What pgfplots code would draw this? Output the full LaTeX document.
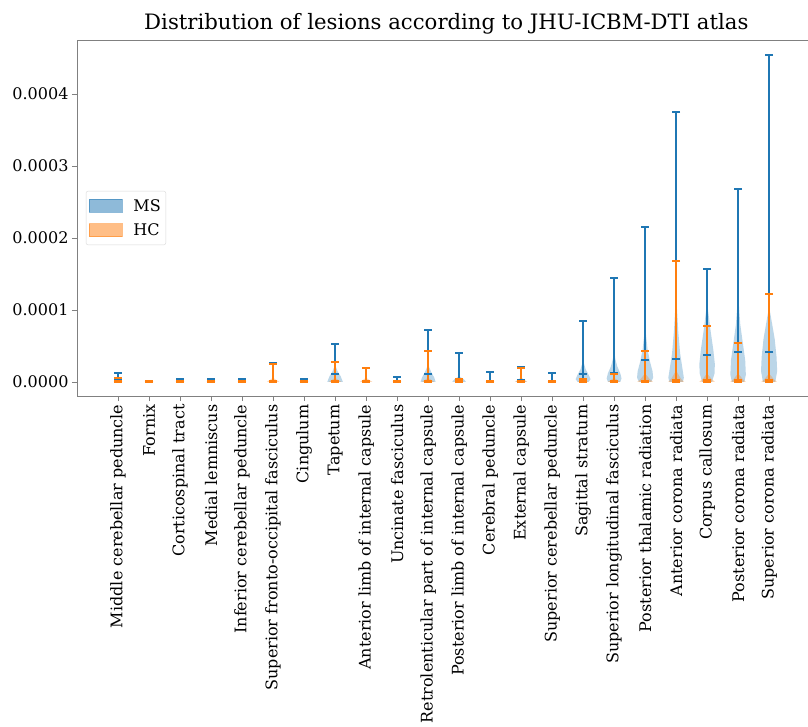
\documentclass[border=0pt]{standalone}
\usepackage{fontspec}
\setmainfont{DejaVu Serif}
\usepackage{pgfplots}
\usepackage{pgfplotstable}
\pgfplotsset{compat=1.18}
\definecolor{msblue}{HTML}{1F77B4}
\definecolor{hcorange}{HTML}{FF7F0E}
\definecolor{spine}{HTML}{808080}

\pgfplotstableread{
x max med min
1 1.2e-5 3e-6 3e-7
2 1.0e-6 5e-7 2e-7
3 4e-6 1.5e-6 3e-7
4 4e-6 1.5e-6 3e-7
5 4e-6 1.5e-6 3e-7
6 2.6e-5 2e-6 3e-7
7 4e-6 1.5e-6 3e-7
8 5.3e-5 1.1e-5 3e-7
9 1.9e-5 2e-6 3e-7
10 6.5e-6 1.5e-6 3e-7
11 7.2e-5 1.1e-5 3e-7
12 4.0e-5 3e-6 3e-7
13 1.4e-5 1.5e-6 3e-7
14 2.1e-5 3e-6 3e-7
15 1.2e-5 1.5e-6 3e-7
16 8.5e-5 1.05e-5 3e-7
17 1.44e-4 1.25e-5 3e-7
18 2.16e-4 3.06e-5 3e-7
19 3.75e-4 3.24e-5 3e-7
20 1.57e-4 3.8e-5 3e-7
21 2.68e-4 4.12e-5 3e-7
22 4.54e-4 4.12e-5 3e-7
}\mscaps

\pgfplotstableread{
x max med min
1 5.5e-6 1e-6 3e-7
2 1.2e-6 5e-7 2e-7
3 2e-6 1e-6 3e-7
4 2e-6 1e-6 3e-7
5 2e-6 1e-6 3e-7
6 2.5e-5 2e-6 3e-7
7 2e-6 1e-6 3e-7
8 2.8e-5 2e-6 3e-7
9 1.9e-5 2e-6 3e-7
10 2e-6 1e-6 3e-7
11 4.3e-5 2e-6 3e-7
12 4e-6 1e-6 3e-7
13 2e-6 1e-6 3e-7
14 2.0e-5 2e-6 3e-7
15 2e-6 1e-6 3e-7
16 4e-6 1e-6 3e-7
17 1.1e-5 1e-6 3e-7
18 4.35e-5 2e-6 3e-7
19 1.68e-4 3e-6 3e-7
20 7.82e-5 3e-6 3e-7
21 5.46e-5 3e-6 3e-7
22 1.22e-4 3e-6 3e-7
}\hccaps

\begin{document}
\begin{tikzpicture}
\useasboundingbox (-77pt,-330pt) rectangle (731pt,396pt);
\begin{axis}[
  at={(0,0)}, anchor=south west,
  scale only axis, width=738.6pt, height=356pt,
  xmin=-0.325, xmax=23.5,
  ymin=-0.0000194, ymax=0.000475,
  axis line style={spine, line width=0.8pt},
  tick align=outside, tick pos=left,
  major tick length=5pt,
  every tick/.style={spine, line width=0.8pt},
  xtick={1,...,22},
  xticklabels={Middle cerebellar peduncle, Fornix, Corticospinal tract, Medial lemniscus, Inferior cerebellar peduncle, Superior fronto-occipital fasciculus, Cingulum, Tapetum, Anterior limb of internal capsule, Uncinate fasciculus, Retrolenticular part of internal capsule, Posterior limb of internal capsule, Cerebral peduncle, External capsule, Superior cerebellar peduncle, Sagittal stratum, Superior longitudinal fasciculus, Posterior thalamic radiation, Anterior corona radiata, Corpus callosum, Posterior corona radiata, Superior corona radiata},
  xticklabel style={rotate=90, anchor=east, font=\fontsize{16}{19}\selectfont},
  ytick={0,0.0001,0.0002,0.0003,0.0004},
  scaled y ticks=false,
  yticklabel style={font=\fontsize{16}{19}\selectfont, /pgf/number format/.cd, fixed, fixed zerofill, precision=4, assume math mode=true},
  title={Distribution of lesions according to JHU-ICBM-DTI atlas},
  title style={font=\fontsize{21.2}{25}\selectfont, at={(0.5,1)}, anchor=base, yshift=5pt},
  legend style={at={(0.012,0.5)}, anchor=west, font=\fontsize{16}{19}\selectfont, draw=black!15, rounded corners=2pt, row sep=7pt, /tikz/column sep=9pt, inner xsep=3pt, inner ysep=6pt},
  legend cell align=left,
]
% MS violin bodies
\addplot[fill=msblue, fill opacity=0.3, draw=none, forget plot] coordinates {(0.88,3e-7) (0.9,2e-6) (1,5e-6) (1.1,2e-6) (1.12,3e-7)} -- cycle;
\addplot[fill=msblue, fill opacity=0.3, draw=none, forget plot] coordinates {(1.9,3e-7) (2,2e-6) (2.1,3e-7)} -- cycle;
\addplot[fill=msblue, fill opacity=0.3, draw=none, forget plot] coordinates {(2.9,3e-7) (3,2.5e-6) (3.1,3e-7)} -- cycle;
\addplot[fill=msblue, fill opacity=0.3, draw=none, forget plot] coordinates {(3.9,3e-7) (4,2.5e-6) (4.1,3e-7)} -- cycle;
\addplot[fill=msblue, fill opacity=0.3, draw=none, forget plot] coordinates {(4.9,3e-7) (5,2.5e-6) (5.1,3e-7)} -- cycle;
\addplot[fill=msblue, fill opacity=0.3, draw=none, forget plot] coordinates {(5.88,3e-7) (6,4e-6) (6.12,3e-7)} -- cycle;
\addplot[fill=msblue, fill opacity=0.3, draw=none, forget plot] coordinates {(6.9,3e-7) (7,2.5e-6) (7.1,3e-7)} -- cycle;
\addplot[fill=msblue, fill opacity=0.3, draw=none, forget plot] coordinates {(7.75,3e-7) (7.82,8e-6) (7.92,1.5e-5) (8,2.4e-5) (8.08,1.5e-5) (8.18,8e-6) (8.25,3e-7)} -- cycle;
\addplot[fill=msblue, fill opacity=0.3, draw=none, forget plot] coordinates {(8.86,3e-7) (9,4e-6) (9.14,3e-7)} -- cycle;
\addplot[fill=msblue, fill opacity=0.3, draw=none, forget plot] coordinates {(9.9,3e-7) (10,2.5e-6) (10.1,3e-7)} -- cycle;
\addplot[fill=msblue, fill opacity=0.3, draw=none, forget plot] coordinates {(10.76,3e-7) (10.8,6e-6) (10.9,1.4e-5) (10.96,2e-5) (11,2.6e-5) (11.04,2e-5) (11.1,1.4e-5) (11.2,6e-6) (11.24,3e-7)} -- cycle;
\addplot[fill=msblue, fill opacity=0.3, draw=none, forget plot] coordinates {(11.78,3e-7) (11.85,4e-6) (12,8e-6) (12.15,4e-6) (12.22,3e-7)} -- cycle;
\addplot[fill=msblue, fill opacity=0.3, draw=none, forget plot] coordinates {(12.9,3e-7) (13,2.5e-6) (13.1,3e-7)} -- cycle;
\addplot[fill=msblue, fill opacity=0.3, draw=none, forget plot] coordinates {(13.82,3e-7) (13.9,3e-6) (14,6e-6) (14.1,3e-6) (14.18,3e-7)} -- cycle;
\addplot[fill=msblue, fill opacity=0.3, draw=none, forget plot] coordinates {(14.9,3e-7) (15,2.5e-6) (15.1,3e-7)} -- cycle;
\addplot[fill=msblue, fill opacity=0.3, draw=none, forget plot] coordinates {(15.82,3e-7) (15.76,4e-6) (15.82,1e-5) (15.92,1.8e-5) (15.98,2.7e-5) (16,4e-5) (16.02,2.7e-5) (16.08,1.8e-5) (16.18,1e-5) (16.24,4e-6) (16.18,3e-7)} -- cycle;
\addplot[fill=msblue, fill opacity=0.3, draw=none, forget plot] coordinates {(16.8,3e-7) (16.76,5e-6) (16.8,1.2e-5) (16.9,2.2e-5) (16.96,3.2e-5) (17,4.5e-5) (17.04,3.2e-5) (17.1,2.2e-5) (17.2,1.2e-5) (17.24,5e-6) (17.2,3e-7)} -- cycle;
\addplot[fill=msblue, fill opacity=0.3, draw=none, forget plot] coordinates {(17.8,3e-7) (17.74,6e-6) (17.76,1.5e-5) (17.84,2.8e-5) (17.92,4.5e-5) (17.97,6.5e-5) (18,9e-5) (18.03,6.5e-5) (18.08,4.5e-5) (18.16,2.8e-5) (18.24,1.5e-5) (18.26,6e-6) (18.2,3e-7)} -- cycle;
\addplot[fill=msblue, fill opacity=0.3, draw=none, forget plot] coordinates {(18.78,3e-7) (18.75,6e-6) (18.8,2e-5) (18.87,4e-5) (18.93,7e-5) (18.97,1e-4) (19,1.3e-4) (19.03,1e-4) (19.07,7e-5) (19.13,4e-5) (19.2,2e-5) (19.25,6e-6) (19.22,3e-7)} -- cycle;
\addplot[fill=msblue, fill opacity=0.3, draw=none, forget plot] coordinates {(19.84,3e-7) (19.76,1.2e-5) (19.75,2.5e-5) (19.8,4.5e-5) (19.9,7.5e-5) (19.97,1e-4) (20,1.15e-4) (20.03,1e-4) (20.1,7.5e-5) (20.2,4.5e-5) (20.25,2.5e-5) (20.24,1.2e-5) (20.16,3e-7)} -- cycle;
\addplot[fill=msblue, fill opacity=0.3, draw=none, forget plot] coordinates {(20.8,3e-7) (20.75,1e-5) (20.77,3e-5) (20.85,5.5e-5) (20.93,8e-5) (20.98,1.1e-4) (21,1.2e-4) (21.02,1.1e-4) (21.07,8e-5) (21.15,5.5e-5) (21.23,3e-5) (21.25,1e-5) (21.2,3e-7)} -- cycle;
\addplot[fill=msblue, fill opacity=0.3, draw=none, forget plot] coordinates {(21.8,3e-7) (21.74,1.5e-5) (21.76,3.5e-5) (21.82,6e-5) (21.92,8.5e-5) (21.98,1e-4) (22,1.15e-4) (22.02,1e-4) (22.08,8.5e-5) (22.18,6e-5) (22.24,3.5e-5) (22.26,1.5e-5) (22.2,3e-7)} -- cycle;
% MS lines and caps
\addplot[ycomb, msblue, line width=2pt, forget plot] table[x=x,y=max]{\mscaps};
\addplot[only marks, mark=-, mark size=3.9pt, mark options={msblue, line width=2pt}, forget plot] table[x=x,y=max]{\mscaps};
\addplot[only marks, mark=-, mark size=3.9pt, mark options={msblue, line width=2pt}, forget plot] table[x=x,y=med]{\mscaps};
\addplot[only marks, mark=-, mark size=3.9pt, mark options={msblue, line width=2pt}, forget plot] table[x=x,y=min]{\mscaps};
% HC violin bodies
\addplot[fill=hcorange, fill opacity=0.3, draw=none, forget plot] coordinates {(0.85,3e-7) (1,3e-6) (1.15,3e-7)} -- cycle;
\addplot[fill=hcorange, fill opacity=0.3, draw=none, forget plot] coordinates {(1.85,3e-7) (2,1.5e-6) (2.15,3e-7)} -- cycle;
\addplot[fill=hcorange, fill opacity=0.3, draw=none, forget plot] coordinates {(2.85,3e-7) (3,2e-6) (3.15,3e-7)} -- cycle;
\addplot[fill=hcorange, fill opacity=0.3, draw=none, forget plot] coordinates {(3.85,3e-7) (4,2e-6) (4.15,3e-7)} -- cycle;
\addplot[fill=hcorange, fill opacity=0.3, draw=none, forget plot] coordinates {(4.85,3e-7) (5,2e-6) (5.15,3e-7)} -- cycle;
\addplot[fill=hcorange, fill opacity=0.3, draw=none, forget plot] coordinates {(5.8,3e-7) (5.9,3e-6) (6,6e-6) (6.1,3e-6) (6.2,3e-7)} -- cycle;
\addplot[fill=hcorange, fill opacity=0.3, draw=none, forget plot] coordinates {(6.85,3e-7) (7,2e-6) (7.15,3e-7)} -- cycle;
\addplot[fill=hcorange, fill opacity=0.3, draw=none, forget plot] coordinates {(7.8,3e-7) (7.9,3e-6) (8,6e-6) (8.1,3e-6) (8.2,3e-7)} -- cycle;
\addplot[fill=hcorange, fill opacity=0.3, draw=none, forget plot] coordinates {(8.8,3e-7) (8.9,3e-6) (9,6e-6) (9.1,3e-6) (9.2,3e-7)} -- cycle;
\addplot[fill=hcorange, fill opacity=0.3, draw=none, forget plot] coordinates {(9.85,3e-7) (10,2e-6) (10.15,3e-7)} -- cycle;
\addplot[fill=hcorange, fill opacity=0.3, draw=none, forget plot] coordinates {(10.8,3e-7) (10.9,3e-6) (11,6e-6) (11.1,3e-6) (11.2,3e-7)} -- cycle;
\addplot[fill=hcorange, fill opacity=0.3, draw=none, forget plot] coordinates {(11.85,3e-7) (12,3e-6) (12.15,3e-7)} -- cycle;
\addplot[fill=hcorange, fill opacity=0.3, draw=none, forget plot] coordinates {(12.85,3e-7) (13,2e-6) (13.15,3e-7)} -- cycle;
\addplot[fill=hcorange, fill opacity=0.3, draw=none, forget plot] coordinates {(13.8,3e-7) (13.9,3e-6) (14,6e-6) (14.1,3e-6) (14.2,3e-7)} -- cycle;
\addplot[fill=hcorange, fill opacity=0.3, draw=none, forget plot] coordinates {(14.85,3e-7) (15,2e-6) (15.15,3e-7)} -- cycle;
\addplot[fill=hcorange, fill opacity=0.3, draw=none, forget plot] coordinates {(15.82,3e-7) (16,3e-6) (16.18,3e-7)} -- cycle;
\addplot[fill=hcorange, fill opacity=0.3, draw=none, forget plot] coordinates {(16.8,3e-7) (16.9,3e-6) (17,6e-6) (17.1,3e-6) (17.2,3e-7)} -- cycle;
\addplot[fill=hcorange, fill opacity=0.3, draw=none, forget plot] coordinates {(17.75,3e-7) (17.85,4e-6) (18,1.2e-5) (18.15,4e-6) (18.25,3e-7)} -- cycle;
\addplot[fill=hcorange, fill opacity=0.3, draw=none, forget plot] coordinates {(18.75,3e-7) (18.85,5e-6) (19,1.6e-5) (19.15,5e-6) (19.25,3e-7)} -- cycle;
\addplot[fill=hcorange, fill opacity=0.3, draw=none, forget plot] coordinates {(19.75,3e-7) (19.85,4e-6) (20,1.2e-5) (20.15,4e-6) (20.25,3e-7)} -- cycle;
\addplot[fill=hcorange, fill opacity=0.3, draw=none, forget plot] coordinates {(20.75,3e-7) (20.85,4e-6) (21,1.2e-5) (21.15,4e-6) (21.25,3e-7)} -- cycle;
\addplot[fill=hcorange, fill opacity=0.3, draw=none, forget plot] coordinates {(21.75,3e-7) (21.85,4e-6) (22,1.2e-5) (22.15,4e-6) (22.25,3e-7)} -- cycle;
% HC lines and caps
\addplot[ycomb, hcorange, line width=2pt, forget plot] table[x=x,y=max]{\hccaps};
\addplot[only marks, mark=-, mark size=3.9pt, mark options={hcorange, line width=2pt}, forget plot] table[x=x,y=max]{\hccaps};
\addplot[only marks, mark=-, mark size=3.9pt, mark options={hcorange, line width=2pt}, forget plot] table[x=x,y=med]{\hccaps};
\addplot[only marks, mark=-, mark size=3.9pt, mark options={hcorange, line width=2pt}, forget plot] table[x=x,y=min]{\hccaps};
% legend
\addlegendimage{legend image code/.code={\draw[sharp corners, fill=msblue, fill opacity=0.5, draw=msblue, draw opacity=0.5] (0pt,-6.5pt) rectangle (33pt,6.5pt);}}
\addlegendentry{MS}
\addlegendimage{legend image code/.code={\draw[sharp corners, fill=hcorange, fill opacity=0.5, draw=hcorange, draw opacity=0.5] (0pt,-6.5pt) rectangle (33pt,6.5pt);}}
\addlegendentry{HC}
\end{axis}
\end{tikzpicture}
\end{document}
